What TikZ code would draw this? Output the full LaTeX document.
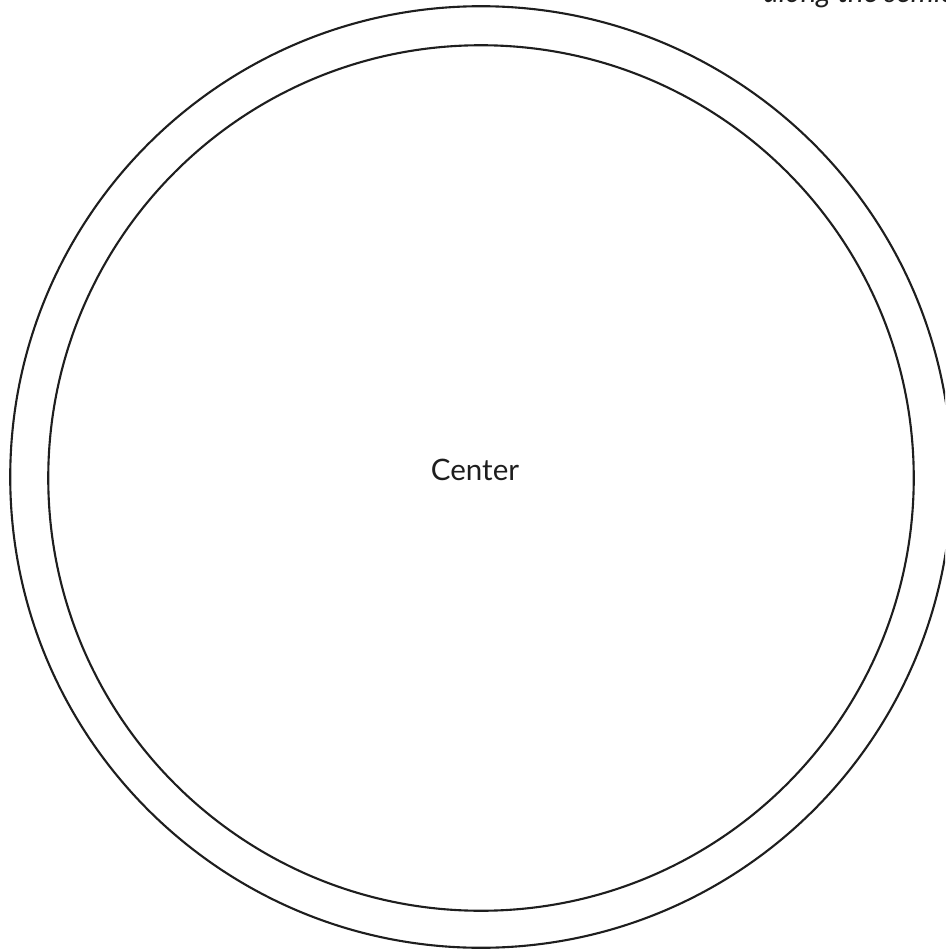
\documentclass[tikz,border=0pt]{standalone}
\usepackage{fontspec}
\setmainfont{Lato}
\usetikzlibrary{positioning}
\definecolor{ink}{RGB}{30,30,30}

\begin{document}
\begin{tikzpicture}[x=0.01cm,y=0.01cm,font=\fontsize{8.4}{10}\selectfont]
\tikzset{ring/.style={circle,draw=ink,line width=0.6pt,inner sep=0pt},
  lab/.style={text=ink,inner sep=0pt}}
\useasboundingbox (0,0) rectangle (945,-949);
\clip (0,0) rectangle (945,-949);
\node[ring,minimum size=9.41cm] (outer) at (481,-477) {};
\node[ring,minimum size=8.65cm] (inner) at (481,-478) {};
\node[lab] (center) at (475,-470) {Center};
\node[lab,anchor=base west,font=\fontsize{8.4}{10}\selectfont\itshape] (note) at (763,-3) {along the semicircle};
\end{tikzpicture}
\end{document}
